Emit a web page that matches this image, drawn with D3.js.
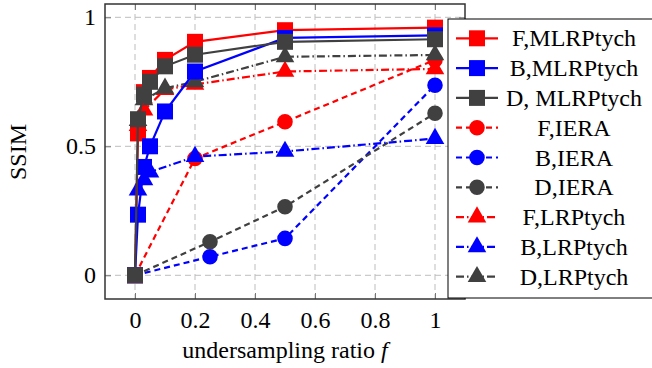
<!DOCTYPE html>
<html>
<head>
<meta charset="utf-8">
<script src="https://cdn.jsdelivr.net/npm/d3@7"></script>
<style>
  body { margin: 0; background: #fff; }
</style>
</head>
<body>
<div id="container"></div>
<script>
// data
const xMLRP = [0, 0.01, 0.03, 0.05, 0.1, 0.2, 0.5, 1];
const fMLRP = [0, 0.55, 0.71, 0.765, 0.835, 0.905, 0.95, 0.96];
const bMLRP = [0, 0.235, 0.42, 0.5, 0.635, 0.79, 0.92, 0.93];
const dMLRP = [0, 0.605, 0.70, 0.75, 0.81, 0.855, 0.905, 0.915];

const xFIERA = [0, 0.2, 0.5, 1];
const fIERA = [0, 0.453, 0.595, 0.835];
const xBDIERA = [0, 0.25, 0.5, 1];
const bIERA = [0, 0.072, 0.143, 0.737];
const dIERA = [0, 0.13, 0.266, 0.628];

const xFLRP = [0.01, 0.03, 0.1, 0.2, 0.5, 1];
const fLRP = [0.58, 0.64, 0.72, 0.74, 0.79, 0.80];
const xBLRP = [0.01, 0.03, 0.05, 0.2, 0.5, 1];
const bLRP = [0.33, 0.37, 0.40, 0.46, 0.48, 0.53];
const xDLRP = [0.01, 0.03, 0.1, 0.2, 0.5, 1];
const dLRP = [0.60, 0.68, 0.725, 0.75, 0.847, 0.854];

const xTicks = [0, 0.2, 0.4, 0.6, 0.8, 1];
const yTicks = [0, 0.5, 1];

const RED = "#ff0000", BLUE = "#0000ff", GRAY = "#404040";
const SOLID = null, DASHED = "6,4", DASHDOT = "8,3,1.5,3";
const FONT = "Liberation Serif";

const series = [
  {name: "F,MLRPtych", xs: xMLRP, ys: fMLRP, color: RED, dash: SOLID, mark: "square"},
  {name: "B,MLRPtych", xs: xMLRP, ys: bMLRP, color: BLUE, dash: SOLID, mark: "square"},
  {name: "D, MLRPtych", xs: xMLRP, ys: dMLRP, color: GRAY, dash: SOLID, mark: "square"},
  {name: "F,IERA", xs: xFIERA, ys: fIERA, color: RED, dash: DASHED, mark: "circle"},
  {name: "B,IERA", xs: xBDIERA, ys: bIERA, color: BLUE, dash: DASHED, mark: "circle"},
  {name: "D,IERA", xs: xBDIERA, ys: dIERA, color: GRAY, dash: DASHED, mark: "circle"},
  {name: "F,LRPtych", xs: xFLRP, ys: fLRP, color: RED, dash: DASHDOT, mark: "triangle"},
  {name: "B,LRPtych", xs: xBLRP, ys: bLRP, color: BLUE, dash: DASHDOT, mark: "triangle"},
  {name: "D,LRPtych", xs: xDLRP, ys: dLRP, color: GRAY, dash: DASHDOT, mark: "triangle"}
];

const w = 652, h = 368;
const box = {left: 105, right: 465, top: 4, bottom: 299};

const x = d3.scaleLinear().domain([-0.1, 1.1]).range([box.left, box.right]);
const y = d3.scaleLinear().domain([-0.0919, 1.0516]).range([box.bottom, box.top]);

const symbols = {
  square: d3.symbol().type(d3.symbolSquare).size(256),
  circle: d3.symbol().type(d3.symbolCircle).size(190),
  triangle: d3.symbol().type(d3.symbolTriangle).size(150)
};

let svg = d3.select("#container")
    .append("svg")
    .attr("width", w)
    .attr("height", h);

// grid
svg.append("g")
    .selectAll("line")
    .data(xTicks)
    .enter()
    .append("line")
    .attr("x1", d => x(d)).attr("x2", d => x(d))
    .attr("y1", box.top).attr("y2", box.bottom)
    .attr("stroke", "#bdbdbd").attr("stroke-dasharray", "6,4");
svg.append("g")
    .selectAll("line")
    .data(yTicks)
    .enter()
    .append("line")
    .attr("y1", d => y(d)).attr("y2", d => y(d))
    .attr("x1", box.left).attr("x2", box.right)
    .attr("stroke", "#bdbdbd").attr("stroke-dasharray", "6,4");

// axes (ticks inside, mirrored)
const tickStyle = g => {
  g.attr("font-family", FONT).attr("font-size", 24);
  g.select(".domain").remove();
  g.selectAll(".tick line").attr("stroke", "#777");
  g.selectAll(".tick text").attr("fill", "#000");
};
svg.append("g")
    .attr("transform", "translate(0," + box.bottom + ")")
    .call(d3.axisBottom(x).tickValues(xTicks).tickSize(-6).tickPadding(12).tickFormat(d3.format("")))
    .call(tickStyle);
svg.append("g")
    .attr("transform", "translate(0," + box.top + ")")
    .call(d3.axisTop(x).tickValues(xTicks).tickSize(-6).tickFormat(""))
    .call(tickStyle);
svg.append("g")
    .attr("transform", "translate(" + box.left + ",0)")
    .call(d3.axisLeft(y).tickValues(yTicks).tickSize(-6).tickPadding(9).tickFormat(d3.format("")))
    .call(tickStyle);
svg.append("g")
    .attr("transform", "translate(" + box.right + ",0)")
    .call(d3.axisRight(y).tickValues(yTicks).tickSize(-6).tickFormat(""))
    .call(tickStyle);

svg.append("rect")
    .attr("x", box.left).attr("y", box.top)
    .attr("width", box.right - box.left).attr("height", box.bottom - box.top)
    .attr("fill", "none").attr("stroke", "#333").attr("stroke-width", 1.5);

// series: MLRPtych drawn last so its squares sit on top
const line = d3.line().x(d => x(d[0])).y(d => y(d[1]));
const drawOrder = [3, 4, 5, 6, 7, 8, 0, 1, 2];
drawOrder.forEach(i => {
  const s = series[i];
  const pts = s.xs.map((v, j) => [v, s.ys[j]]);
  const g = svg.append("g");
  g.append("path")
      .datum(pts)
      .attr("d", line)
      .attr("fill", "none")
      .attr("stroke", s.color)
      .attr("stroke-width", 2.2)
      .attr("stroke-dasharray", s.dash);
  g.selectAll(".mark")
      .data(pts)
      .enter()
      .append("path")
      .attr("transform", d => "translate(" + x(d[0]) + "," + y(d[1]) + ")")
      .attr("d", symbols[s.mark])
      .attr("fill", s.color);
});

// legend
let legend = svg.append("g")
    .attr("id", "legend")
    .attr("transform", "translate(448,19)");
legend.append("rect")
    .attr("width", 220).attr("height", 279)
    .attr("fill", "#fff").attr("stroke", "#000").attr("stroke-width", 1);

const rows = legend.selectAll(".row")
    .data(series)
    .enter()
    .append("g")
    .attr("transform", (d, i) => "translate(0," + (19.3 + i * 29.8) + ")");
rows.append("line")
    .attr("x1", 8).attr("x2", 50)
    .attr("stroke", d => d.color)
    .attr("stroke-width", 2.2)
    .attr("stroke-dasharray", d => d.dash);
rows.append("path")
    .attr("transform", "translate(29,0)")
    .attr("d", d => symbols[d.mark]())
    .attr("fill", d => d.color);
rows.append("text")
    .attr("x", 126).attr("y", 8)
    .attr("text-anchor", "middle")
    .attr("font-family", FONT)
    .attr("font-size", 24)
    .text(d => d.name);

// axis labels
svg.append("text")
    .attr("transform", "translate(26,152) rotate(-90)")
    .attr("text-anchor", "middle")
    .attr("font-family", FONT)
    .attr("font-size", 24)
    .text("SSIM");
const xl = svg.append("text")
    .attr("x", 285).attr("y", 358)
    .attr("text-anchor", "middle")
    .attr("font-family", FONT)
    .attr("font-size", 24);
xl.append("tspan").text("undersampling ratio ");
xl.append("tspan").attr("font-style", "italic").text("f");
</script>
</body>
</html>
